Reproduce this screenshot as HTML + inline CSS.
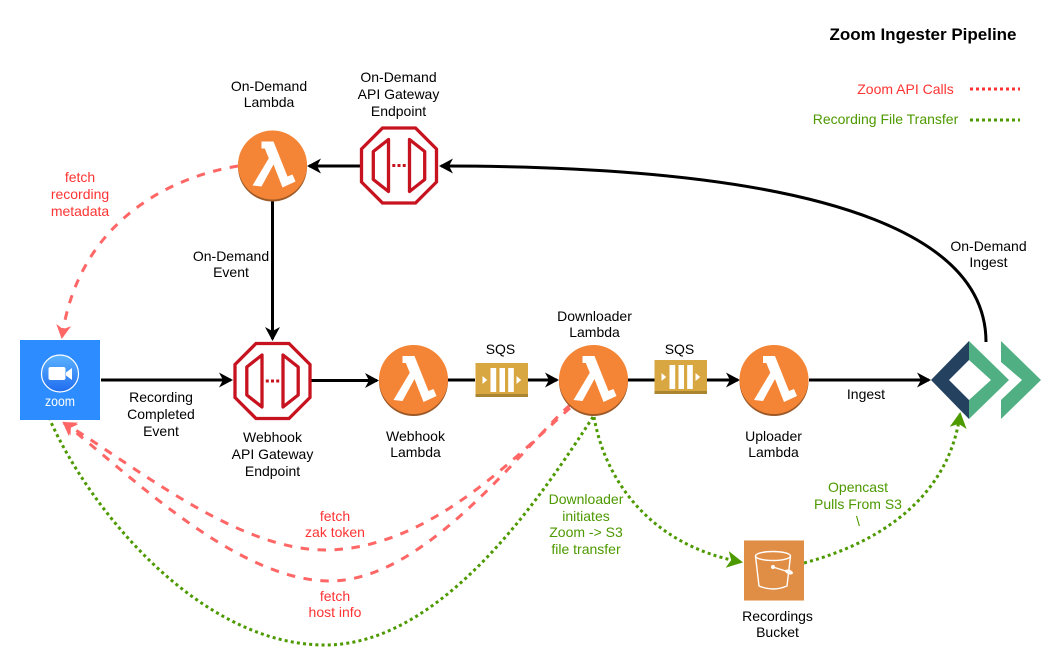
<!DOCTYPE html>
<html><head><meta charset="utf-8">
<style>
html,body{margin:0;padding:0;background:#fff;width:1062px;height:667px;overflow:hidden}
svg{display:block}
text{font-family:"Liberation Sans",Arial,sans-serif;font-size:14px;text-anchor:middle;fill:#000}
.r{fill:#FF3333}.g{fill:#4D9900}
.b{fill:none;stroke:#000;stroke-width:3}
.rd{fill:none;stroke:#FF6666;stroke-width:3;stroke-dasharray:8.500 8.500}
.gd{fill:none;stroke:#4D9900;stroke-width:3;stroke-dasharray:3 3.200}
</style></head><body>
<svg width="1062" height="667" viewBox="0 0 1062 667" xmlns="http://www.w3.org/2000/svg">
<defs>
<marker id="ab" markerUnits="userSpaceOnUse" markerWidth="18" markerHeight="18" refX="12" refY="7.500" orient="auto"><path d="M14 7.500L0 0L4 7.500L0 15Z" fill="#000"/></marker>
<marker id="ar" markerUnits="userSpaceOnUse" markerWidth="18" markerHeight="18" refX="12" refY="7.500" orient="auto"><path d="M14 7.500L0 0L4 7.500L0 15Z" fill="#FF6666"/></marker>
<marker id="ag" markerUnits="userSpaceOnUse" markerWidth="20" markerHeight="20" refX="14" refY="8.500" orient="auto"><path d="M16 8.500L0 0L4 8.500L0 17Z" fill="#4D9900"/></marker>
<linearGradient id="zg" x1="0" y1="0" x2="0" y2="1"><stop offset="0" stop-color="#5cb3ff"/><stop offset="1" stop-color="#1f6cf0"/></linearGradient>
<g id="lam">
<circle cx="0" cy="1.500" r="34.500" fill="#9D5A28"/>
<circle cx="0" cy="-0.500" r="34.500" fill="#F58536"/>
<path d="M-11 -24L1 -24L15 11L20 9L23 16L10 22L1 -1L-11 21L-20 20L-3.700 -7.300L-7.700 -17L-11 -17Z" fill="#fff"/>
</g>
<g id="gw" fill="none" stroke="#C7131F" stroke-width="3.300" stroke-linejoin="round">
<path d="M-16.500 -37.500H16.500L37.500 -16.500V16.500L16.500 37.500H-16.500L-37.500 16.500V-16.500Z" stroke-linejoin="miter"/>
<path d="M-10.500 -26L-25.700 -14V14L-10.500 26Z"/>
<path d="M10.500 -26L25.700 -14V14L10.500 26Z"/>
<path d="M-6.700 0H6.700" stroke-dasharray="3 2.200" stroke-width="3"/>
</g>
<g id="sqs">
<rect x="0" y="0" width="52.500" height="34" fill="#D9A741"/>
<rect x="0" y="31" width="52.500" height="3" fill="#A98531"/>
<rect x="15" y="5" width="5.700" height="24" fill="#fff"/>
<rect x="24" y="5" width="5.500" height="24" fill="#fff"/>
<rect x="32.700" y="5" width="5.600" height="24" fill="#fff"/>
<path d="M7 13L11.700 17L7 21Z M41 13L45.700 17L41 21Z" fill="#fff"/>
</g>
</defs>

<!-- black connectors -->
<path class="b" d="M101 380H231" marker-end="url(#ab)"/>
<path class="b" d="M311 380.500H377" marker-end="url(#ab)"/>
<path class="b" d="M448 380H475"/>
<path class="b" d="M528 380H557" marker-end="url(#ab)"/>
<path class="b" d="M628 380H655"/>
<path class="b" d="M707 380H738" marker-end="url(#ab)"/>
<path class="b" d="M809 380H929" marker-end="url(#ab)"/>
<path class="b" d="M272.500 201V339" marker-end="url(#ab)"/>
<path class="b" d="M360 166H309" marker-end="url(#ab)"/>
<path class="b" d="M986 342C986 250 870 166 441 166" marker-end="url(#ab)"/>

<!-- red dashed -->
<path class="rd" d="M238 166C165 178 78 225 62 337" marker-end="url(#ar)"/>
<path class="rd" d="M570 408C520 452 430 550 325 550C235 550 130 462 64 423" marker-end="url(#ar)"/>
<path class="rd" d="M570 405C520 450 425 581 330 581C235 581 125 470 64 423" marker-end="url(#ar)"/>

<!-- green dotted -->
<path class="gd" d="M593 417C545 490 445 645 325 645C200 645 90 510 50 420"/>
<path class="gd" d="M594 417C605 480 650 545 741 562" marker-end="url(#ag)"/>
<path class="gd" d="M804 563C890 540 950 490 960 414" marker-end="url(#ag)"/>

<!-- legend lines -->
<path d="M970 89H1020" fill="none" stroke="#FF3333" stroke-width="3" stroke-dasharray="3 3"/>
<path d="M970 120H1020" fill="none" stroke="#4D9900" stroke-width="3" stroke-dasharray="3 3"/>

<!-- zoom -->
<rect x="20" y="340" width="80" height="80" fill="#2D8CFF"/>
<circle cx="60" cy="373.500" r="18.500" fill="url(#zg)" stroke="#fff" stroke-width="1.200"/>
<rect x="48.500" y="367" width="17" height="13" rx="2" fill="#fff"/>
<path d="M66 372.500L72 368V380L66 375.500Z" fill="#fff"/>
<text x="60" y="406" textLength="30" lengthAdjust="spacingAndGlyphs" style="font-size:14px;fill:#fff">zoom</text>

<!-- services -->
<use href="#lam" x="272.500" y="165.500"/>
<use href="#lam" x="413.500" y="380"/>
<use href="#lam" x="593.500" y="380"/>
<use href="#lam" x="774" y="380"/>
<use href="#gw" x="399" y="165.500"/>
<use href="#gw" x="272.500" y="381"/>
<use href="#sqs" x="475.500" y="363"/>
<use href="#sqs" x="654.500" y="360"/>

<!-- opencast -->
<path d="M931 380L969 341V360L949 380L969 400V419Z" fill="#24425F"/>
<path d="M969 341L1009 380L969 419V400L991 380L969 360Z" fill="#50B083"/>
<path d="M1001 341L1041 380L1001 419V400L1022 380L1001 362Z" fill="#50B083"/>

<!-- S3 -->
<rect x="744" y="540" width="60" height="61" fill="#E08D45"/>
<rect x="744" y="540" width="60" height="1" fill="#F0C49C"/>
<rect x="744" y="600" width="60" height="1" fill="#F0C49C"/>
<g fill="none" stroke="#fff" stroke-width="1.400">
<ellipse cx="773" cy="556" rx="17.500" ry="4.500"/>
<path d="M755.500 556L759 586Q773 592 787 586L790.500 556"/>
<path d="M773 567L792 573"/>
<ellipse cx="789" cy="572" rx="3.500" ry="1.500" transform="rotate(20 789 572)"/>
</g>
<circle cx="773" cy="567" r="2" fill="#fff"/>

<!-- labels -->
<text x="923" y="40" style="font-size:17px;font-weight:bold">Zoom Ingester Pipeline</text>
<text x="905.500" y="94" class="r">Zoom API Calls</text>
<text x="885.500" y="124" class="g">Recording File Transfer</text>

<text x="269" y="91">On-Demand</text><text x="269" y="107">Lambda</text>
<text x="398.500" y="82">On-Demand</text><text x="398.500" y="99">API Gateway</text><text x="398.500" y="116">Endpoint</text>

<text x="80" y="182" class="r">fetch</text><text x="80" y="199" class="r">recording</text><text x="80" y="216" class="r">metadata</text>
<text x="231" y="261">On-Demand</text><text x="231" y="277">Event</text>
<text x="161" y="402">Recording</text><text x="161" y="419">Completed</text><text x="161" y="436">Event</text>
<text x="272.500" y="442">Webhook</text><text x="272.500" y="459">API Gateway</text><text x="272.500" y="476">Endpoint</text>
<text x="415.500" y="441">Webhook</text><text x="415.500" y="457">Lambda</text>
<text x="500.500" y="354">SQS</text><text x="679.500" y="354">SQS</text>
<text x="594.500" y="321">Downloader</text><text x="594.500" y="337">Lambda</text>
<text x="773.500" y="441">Uploader</text><text x="773.500" y="457">Lambda</text>
<text x="866" y="399">Ingest</text>
<text x="988.500" y="251">On-Demand</text><text x="988.500" y="267">Ingest</text>
<text x="858" y="492" class="g">Opencast</text><text x="858" y="509" class="g">Pulls From S3</text><text x="858" y="526" class="g">\</text>
<text x="586" y="504" class="g">Downloader</text><text x="586" y="521" class="g">initiates</text><text x="586" y="537" class="g">Zoom -&gt; S3</text><text x="586" y="554" class="g">file transfer</text>
<text x="335" y="521" class="r">fetch</text><text x="335" y="537" class="r">zak token</text>
<text x="335" y="601" class="r">fetch</text><text x="335" y="617" class="r">host info</text>
<text x="777.500" y="621">Recordings</text><text x="777.500" y="637">Bucket</text>
</svg>
</body></html>
